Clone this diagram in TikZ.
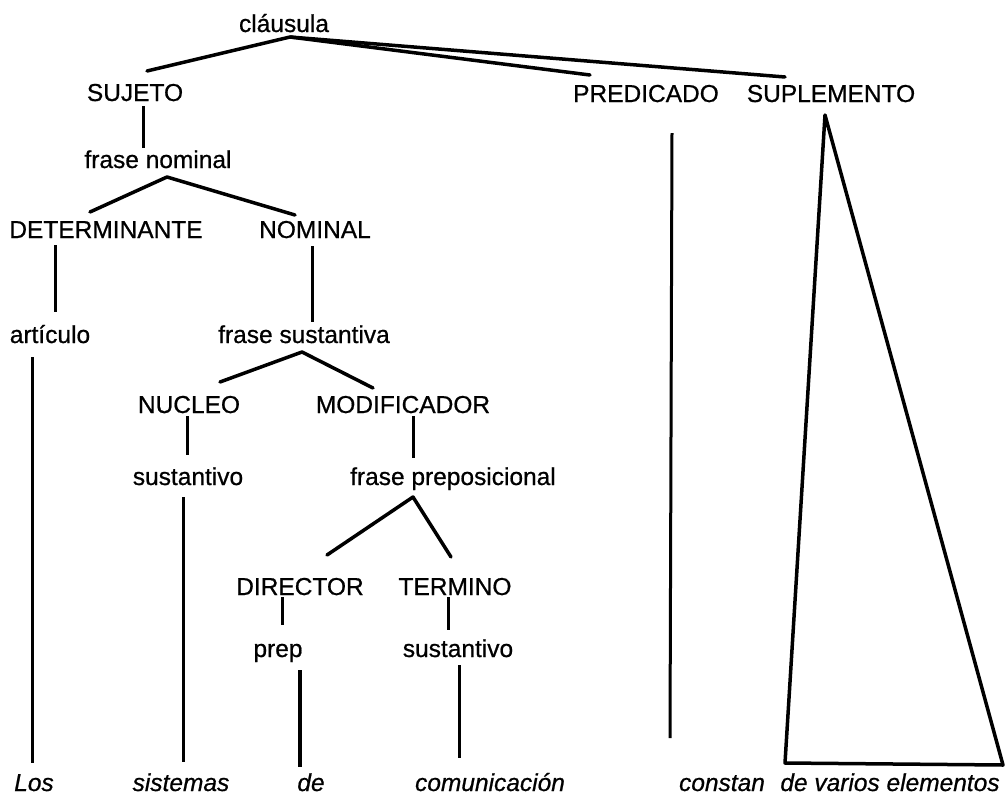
\documentclass[tikz,border=0pt]{standalone}
\usepackage{fontspec}
\setmainfont{Liberation Sans}[FakeBold=0.7]
\usetikzlibrary{calc}
\begin{document}
\begin{tikzpicture}[x=1pt,y=-1pt,
  lbl/.style={anchor=base,inner sep=0pt,font=\fontsize{24.5pt}{29pt}\selectfont},
  word/.style={lbl,font=\fontsize{24.5pt}{29pt}\selectfont\itshape},
  br/.style={line width=3.5pt,line cap=round,line join=round},
  vt/.style={line width=3pt,line cap=butt}]
\useasboundingbox (0,0) rectangle (1005,796);
% labels
\node[lbl] (claus) at (284,32) {cláusula};
\node[lbl] (suj) at (135,101) {SUJETO};
\node[lbl] (pred) at (646,102) {PREDICADO};
\node[lbl] (supl) at (831,102) {SUPLEMENTO};
\node[lbl] (fnom) at (158,168) {frase nominal};
\node[lbl] (det) at (106,238) {DETERMINANTE};
\node[lbl] (nomi) at (315,238) {NOMINAL};
\node[lbl] (art) at (50,343) {artículo};
\node[lbl] (fsus) at (304,343) {frase sustantiva};
\node[lbl] (nuc) at (189,413) {NUCLEO};
\node[lbl] (mod) at (403,413) {MODIFICADOR};
\node[lbl] (sustA) at (188,485) {sustantivo};
\node[lbl] (fprep) at (453,485) {frase preposicional};
\node[lbl] (dir) at (300,595) {DIRECTOR};
\node[lbl] (ter) at (455,595) {TERMINO};
\node[lbl] (prep) at (278,657) {prep};
\node[lbl] (sustB) at (458,657) {sustantivo};
\node[word] (los) at (34,791) {Los};
\node[word] (sist) at (181,791) {sistemas};
\node[word] (de) at (311,791) {de};
\node[word] (comu) at (490,791) {comunicación};
\node[word] (cons) at (722,791) {constan};
\node[word] (varios) at (890,791) {de varios elementos};
% branches
\draw[br] ($(suj.base)+(12,-30)$) -- ($(claus.base)+(6,5)$) -- ($(pred.base)+(-56,-27)$);
\draw[br] ($(claus.base)+(6,5)$) -- ($(supl.base)+(-46,-25)$);
\draw[vt] ($(suj.base)+(8,5)$) -- ($(fnom.base)+(-15,-20)$);
\draw[br] ($(det.base)+(-16,-26)$) -- ($(fnom.base)+(9,9)$) -- ($(nomi.base)+(-20,-23)$);
\draw[vt] ($(det.base)+(-51,7)$) -- ($(art.base)+(5,-31)$);
\draw[vt] ($(nomi.base)+(-3,8)$) -- ($(fsus.base)+(8,-21)$);
\draw[vt] ($(art.base)+(-18,14)$) -- ($(los.base)+(-2,-28)$);
\draw[br] ($(nuc.base)+(31,-31)$) -- ($(fsus.base)+(-2,9)$) -- ($(mod.base)+(-30,-25)$);
\draw[vt] ($(nuc.base)+(-2,3)$) -- ($(sustA.base)+(-1,-30)$);
\draw[vt] ($(mod.base)+(10,3)$) -- ($(fprep.base)+(-40,-27)$);
\draw[vt] ($(sustA.base)+(-5,12)$) -- ($(sist.base)+(2,-29)$);
\draw[br] ($(dir.base)+(27,-40)$) -- ($(fprep.base)+(-40,12)$) -- ($(ter.base)+(-4,-38)$);
\draw[vt] ($(dir.base)+(-18,2)$) -- ($(prep.base)+(4,-32)$);
\draw[vt] ($(ter.base)+(-7,2)$) -- ($(sustB.base)+(-10,-27)$);
\draw[vt,line width=3.6pt] ($(prep.base)+(22,13)$) -- ($(de.base)+(-11,-24)$);
\draw[vt] ($(sustB.base)+(1,8)$) -- ($(comu.base)+(-31,-33)$);
\draw[vt] ($(pred.base)+(26,31)$) -- ($(cons.base)+(-52,-53)$);
\draw[br] ($(supl.base)+(-6,13)$) -- ($(varios.base)+(-105,-28)$) -- ($(varios.base)+(113,-26)$) -- cycle;
\end{tikzpicture}
\end{document}
